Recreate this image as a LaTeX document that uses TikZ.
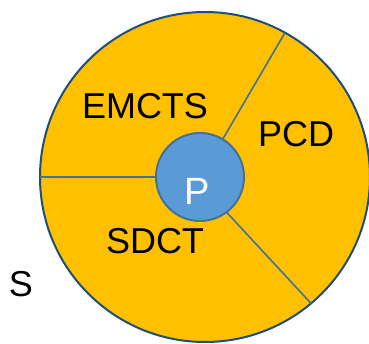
\documentclass[tikz,border=0pt]{standalone}
\usepackage{fontspec}
\setmainfont{Liberation Sans}
\usepackage{tikz}
\usepackage{xcolor}

\definecolor{ringfill}{HTML}{FFC000}
\definecolor{ringdraw}{HTML}{1F4E79}
\definecolor{corefill}{HTML}{5B9BD5}
\definecolor{coredraw}{HTML}{41719C}

\tikzset{
	part/.style={font=\fontsize{36}{40}\selectfont, inner sep=0pt},
	spoke/.style={draw=coredraw, line width=1.6pt}
}

\begin{document}
\begin{tikzpicture}[x=1pt, y=1pt]
		\useasboundingbox (0, 0) rectangle (369, 343);
		\node[circle, fill=ringfill, draw=ringdraw, line width=2pt, minimum size=330pt, inner sep=0pt, outer sep=0pt] (sys) at (205, 166) {};
		\node[circle, fill=corefill, draw=coredraw, line width=2pt, minimum size=88pt, inner sep=0pt, outer sep=0pt] (core) at (200, 166) {};
		\draw[spoke] (core.180) -- (sys.180);
		\draw[spoke] (core.59) -- (sys.61);
		\draw[spoke] (core.-53) -- (sys.-50);
		\node[part] (emcts) at (145, 237) {EMCTS};
		\node[part] (pcd) at (296, 209) {PCD};
		\node[part] (sdct) at (155, 102) {SDCT};
		\node[part, white, font=\fontsize{38}{42}\selectfont] (p) at (197, 152) {P};
		\node[part] (s) at (21, 59) {S};
	\end{tikzpicture}
\end{document}
